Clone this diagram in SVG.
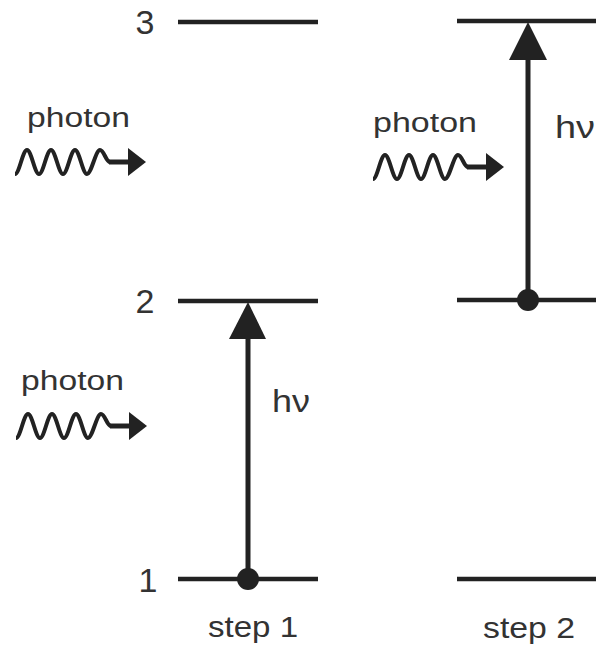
<svg xmlns="http://www.w3.org/2000/svg" width="600" height="646" viewBox="0 0 600 646">
<style>
.lvl{stroke:#222;stroke-width:4.5;fill:none}
.trans{stroke:#222;stroke-width:5;fill:none}
.head{fill:#222}
.wave{stroke:#222;stroke-width:4;fill:none;stroke-linejoin:round}
.shaft{stroke:#222;stroke-width:5;fill:none}
.t{font-family:"Liberation Sans",Arial,sans-serif;fill:#333}
.num{font-size:34px;text-anchor:middle}
.ph{font-size:27px}
.hv{font-size:32px}
.step{font-size:29px}
</style>
<defs>
<g id="photonArrow">
<path class="wave" d="M15,174 C19.4,174 22.6,150 27,150 C31.4,150 34.6,174 39,174 C43.4,174 46.6,150 51,150 C55.4,150 58.6,174 63,174 C67.4,174 70.6,150 75,150 C79.4,150 82.6,174 87,174 C91.4,174 95.6,150 100,150 C104,150 106,162 110,162"/>
<line class="shaft" x1="109" y1="162" x2="130" y2="162"/>
<polygon class="head" points="128,148 146,162 128,176"/>
</g>
</defs>
<g id="labels">
<text class="t num" x="145" y="34">3</text>
<text class="t num" x="145" y="313">2</text>
<text class="t num" x="148" y="592">1</text>
</g>
<g id="step1-levels">
<line class="lvl" x1="178" y1="22" x2="318" y2="22"/>
<line class="lvl" x1="178" y1="301" x2="318" y2="301"/>
<line class="lvl" x1="178" y1="579" x2="318" y2="579"/>
</g>
<g id="step2-levels">
<line class="lvl" x1="457" y1="21" x2="596" y2="21"/>
<line class="lvl" x1="457" y1="300" x2="596" y2="300"/>
<line class="lvl" x1="457" y1="579" x2="596" y2="579"/>
</g>
<g id="connectors">
<g id="transition1">
<line class="trans" x1="248" y1="579" x2="248" y2="336"/>
<polygon class="head" points="248,302 229,339 266,339"/>
<circle class="head" cx="248" cy="579" r="11"/>
</g>
<g id="transition2">
<line class="trans" x1="528" y1="300" x2="528" y2="57"/>
<polygon class="head" points="528,22 509,60 547,60"/>
<circle class="head" cx="528" cy="300" r="11"/>
</g>
</g>
<g id="photon-upper">
<text class="t ph" x="27" y="127" textLength="103" lengthAdjust="spacingAndGlyphs">photon</text>
<use href="#photonArrow"/>
</g>
<g id="photon-lower">
<text class="t ph" x="21" y="390" textLength="103" lengthAdjust="spacingAndGlyphs">photon</text>
<use href="#photonArrow" transform="translate(1,264)"/>
</g>
<g id="photon-step2">
<text class="t ph" x="373" y="132" textLength="104" lengthAdjust="spacingAndGlyphs">photon</text>
<use href="#photonArrow" transform="translate(358,5)"/>
</g>
<g id="hv1"><text class="t hv" x="272" y="412" textLength="38" lengthAdjust="spacingAndGlyphs">hν</text></g>
<g id="hv2"><text class="t hv" x="555" y="138" textLength="40" lengthAdjust="spacingAndGlyphs">hν</text></g>
<g id="step1"><text class="t step" x="208" y="637" textLength="90" lengthAdjust="spacingAndGlyphs">step 1</text></g>
<g id="step2"><text class="t step" x="483" y="638" textLength="92" lengthAdjust="spacingAndGlyphs">step 2</text></g>
</svg>
